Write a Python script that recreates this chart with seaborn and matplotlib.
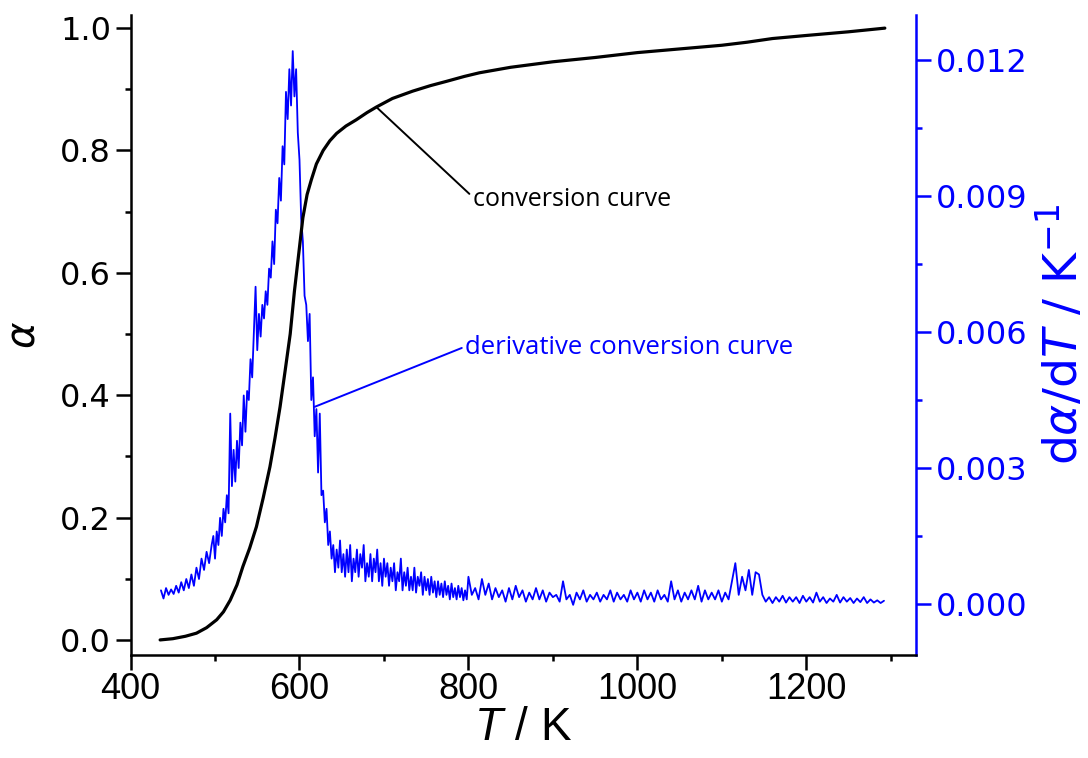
import numpy as np
import pandas as pd
import seaborn as sns
import matplotlib.pyplot as plt
from matplotlib import font_manager
from matplotlib.ticker import MultipleLocator

# conversion curve, alpha(T)
temp_alpha = [435, 450, 465, 478, 490, 502, 510, 518, 526, 533, 541, 549,
              557, 565, 571, 577, 583, 589, 594, 599, 604, 609, 614, 620,
              628, 636, 644, 655, 667, 680, 691, 710, 734, 755, 774, 795,
              813, 850, 900, 950, 1000, 1050, 1100, 1130, 1160, 1200, 1250, 1293]
alpha = [0.0, 0.002, 0.006, 0.011, 0.020, 0.033, 0.046, 0.065, 0.090, 0.120, 0.150, 0.185,
         0.232, 0.283, 0.330, 0.381, 0.440, 0.500, 0.570, 0.630, 0.690, 0.728, 0.752, 0.778,
         0.800, 0.816, 0.828, 0.840, 0.850, 0.862, 0.871, 0.885, 0.897, 0.906, 0.913, 0.921,
         0.927, 0.936, 0.945, 0.952, 0.960, 0.966, 0.972, 0.977, 0.983, 0.988, 0.994, 1.0]

# derivative conversion curve, dalpha/dT in 1e-4 K^-1
temp_deriv = [
    436, 439, 442, 445, 448, 451, 454, 457, 460, 463, 466, 469,
    472, 475, 478, 481, 484, 487, 490, 493, 496,
    498, 500, 502, 504, 506, 508, 510, 512, 514, 516,
    518, 520, 522, 524, 526, 528, 530, 532, 534, 536,
    538, 540, 542, 544, 546, 548, 550, 552, 554, 556,
    558, 560, 562, 564, 566, 568, 570, 572, 574, 576,
    578, 580, 582, 584, 586, 588, 590, 592, 594, 596,
    598, 600, 602, 604, 606, 608, 610, 612, 614, 616,
    618, 620, 622, 624, 626, 628, 630, 632, 634, 636,
    638, 640, 642, 644, 646, 648, 650,
    652, 654, 656, 658, 660, 662, 664, 666, 668, 670,
    672, 674, 676, 678, 680, 682, 684, 686, 688, 690,
    692, 694, 696, 698, 700, 702, 704, 706, 708, 710,
    712, 714, 716, 718, 720, 722, 724, 726, 728, 730,
    732, 734, 736, 738, 740, 742, 744, 746, 748, 750,
    752, 754, 756, 758, 760, 762, 764, 766, 768, 770,
    772, 774, 776, 778, 780, 782, 784, 786, 788, 790,
    792, 794, 796, 798, 800,
    804, 808,
    812, 816, 820, 824, 828, 832, 836, 840, 844, 848,
    852, 856, 860, 864, 868, 872, 876, 880, 884, 888,
    892, 896, 900, 904, 908, 912, 916, 920, 924, 928,
    932, 936, 940, 944, 948, 952, 956, 960, 964, 968,
    972, 976, 980, 984, 988, 992, 996, 1000, 1004, 1008,
    1012, 1016, 1020, 1024, 1028, 1032, 1036, 1040, 1044, 1048,
    1052, 1056, 1060, 1064, 1068, 1072, 1076, 1080, 1084, 1088,
    1092, 1096, 1100, 1104, 1108, 1112, 1116, 1120, 1124, 1128,
    1132, 1136, 1140, 1144, 1148, 1152, 1156, 1160, 1164, 1168,
    1172, 1176, 1180, 1184, 1188, 1192, 1196, 1200, 1204, 1208,
    1212, 1216, 1220, 1224, 1228, 1232, 1236, 1240, 1244, 1248,
    1252, 1256, 1260, 1264, 1268, 1272, 1276, 1280, 1284, 1288,
    1292]
deriv_e4 = [
    3.0, 1.2, 3.5, 2.0, 3.2, 2.2, 4.0, 2.5, 4.8, 3.0, 5.5, 3.5,
    6.5, 4.0, 8.0, 5.5, 10.0, 7.5, 11.5, 9.0, 13.0,
    15, 10, 16, 13, 19, 15, 21, 18, 24, 20,
    42, 26, 34, 27, 36, 30, 40, 35, 46, 38,
    47, 45, 54, 50, 60, 70, 56, 64, 59, 66,
    63, 69, 66, 74, 72, 80, 75, 87, 84, 94,
    89, 101, 97, 113, 107, 118, 110, 122, 112, 118,
    104, 98, 85, 80, 68, 66, 58, 64, 45, 50,
    37, 43, 29, 42, 24, 25, 18, 21, 13, 16,
    10, 13, 7, 12, 8, 14, 7,
    11, 6, 12, 7, 13, 5, 10, 7, 12, 6,
    11, 8, 13, 5, 9, 6, 11, 5, 10, 7,
    12, 5, 9, 4, 10, 6, 9, 4, 8, 5,
    9, 3, 7, 5, 10, 3, 7, 4, 8, 3,
    6, 3, 8, 2.5, 6, 4, 7, 2, 6, 3,
    5.5, 2, 6, 2.5, 5, 1.5, 5, 2, 4.5, 1.5,
    5, 2, 4, 1, 4.5, 1.5, 3.5, 1, 4, 1.5,
    3.5, 0.8, 3, 1, 6,
    2, 3.5,
    1, 5.5, 2, 4.5, 1, 3.5, 1.5, 3, 0.5, 3.5,
    1, 4, 1.5, 3, 0.5, 2.5, 1, 3.5, 1, 3,
    0.5, 2.5, 1.5, 2, 0.5, 5, 1, 2, -0.2, 2.5,
    1, 3, 0.5, 2, 1, 2.5, 0.5, 2, 1, 3,
    0.5, 2.5, 1, 2, 0.5, 3, 1, 2.5, 0.5, 3,
    1, 2.5, 0.5, 3, 1, 2, 0.5, 5, 1, 3,
    0.5, 2.5, 1, 3, 1, 4, 0.5, 3, 1, 2.5,
    1, 3, 0.5, 2.5, 1, 5, 9, 2, 6, 3,
    7.5, 2, 7, 6.5, 2, 0.5, 1.5, 0.2, 1.5, 0.5,
    1.8, 0.3, 1.5, 0.5, 1.5, 0.2, 1.8, 0.5, 1.5, 0.3,
    2.5, 0.5, 1.5, 0.2, 1.2, 0.5, 2, 0.3, 1.5, 0.5,
    1.3, 0.2, 1.2, 0.4, 1.5, 0.2, 1.0, 0.3, 0.8, 0.2,
    0.7]

xticks = [400, 600, 800, 1000, 1200]
xtick_labels = ["400", "600", "800", "1000", "1200"]
yticks_left = [0.0, 0.2, 0.4, 0.6, 0.8, 1.0]
yticks_right = [0.0, 0.003, 0.006, 0.009, 0.012]

BLUE = "#0000ff"


def pick(*names):
    for n in names:
        try:
            font_manager.findfont(n, fallback_to_default=False)
            return n
        except ValueError:
            pass
    return "DejaVu Sans"


sans = pick("Open Sans", "Noto Sans", "DejaVu Sans")
narrow = pick("Liberation Sans Narrow", "Liberation Sans", "DejaVu Sans")

sns.set_theme(style="ticks")
plt.rcParams["font.family"] = ["DejaVu Sans"]
plt.rcParams["mathtext.fontset"] = "custom"
plt.rcParams["mathtext.rm"] = "DejaVu Sans"
plt.rcParams["mathtext.it"] = "DejaVu Sans:italic"
plt.rcParams["mathtext.sf"] = narrow + ":italic"
plt.rcParams["axes.linewidth"] = 1.8
plt.rcParams["axes.labelcolor"] = "black"
plt.rcParams["text.color"] = "black"
plt.rcParams["axes.edgecolor"] = "black"
for a in ("xtick", "ytick"):
    plt.rcParams[a + ".major.size"] = 10.5
    plt.rcParams[a + ".minor.size"] = 4.5
    plt.rcParams[a + ".major.width"] = 1.8
    plt.rcParams[a + ".minor.width"] = 1.8
    plt.rcParams[a + ".color"] = "black"

df_a = pd.DataFrame({"T": temp_alpha, "alpha": alpha})
df_d = pd.DataFrame({"T": temp_deriv, "dadt": np.array(deriv_e4) * 1e-4})

fig, ax = plt.subplots(figsize=(10.88, 7.58), dpi=100)
fig.subplots_adjust(left=0.12, right=0.842, top=0.98, bottom=0.136)
ax2 = ax.twinx()

sns.lineplot(data=df_d, x="T", y="dadt", ax=ax2, color=BLUE, lw=1.3, errorbar=None)
sns.lineplot(data=df_a, x="T", y="alpha", ax=ax, color="black", lw=2.3, errorbar=None)

ax.set_zorder(ax2.get_zorder() + 1)
ax.patch.set_visible(False)

ax.set_xlim(400, 1330)
ax.set_ylim(-0.0245, 1.0212)
ax2.set_ylim(-0.001125, 0.012993)

ax.set_xticks(xticks)
ax.set_xticklabels(xtick_labels, fontfamily=narrow, fontsize=26)
ax.xaxis.set_minor_locator(MultipleLocator(100))
ax.set_yticks(yticks_left)
ax.set_yticklabels([f"{v:.1f}" for v in yticks_left], fontsize=23)
ax.yaxis.set_minor_locator(MultipleLocator(0.1))
ax2.set_yticks(yticks_right)
ax2.set_yticklabels([f"{v:.3f}" for v in yticks_right], fontsize=23, color=BLUE)
ax2.yaxis.set_minor_locator(MultipleLocator(0.0015))

ax.tick_params(axis="both", which="both", direction="out", pad=3.5)
ax.tick_params(axis="x", which="major", pad=2)
ax2.tick_params(axis="y", which="both", direction="out", colors=BLUE, pad=3.5)

for s in ("top", "right"):
    ax.spines[s].set_visible(False)
for s in ("top", "left", "bottom"):
    ax2.spines[s].set_visible(False)
ax2.spines["right"].set_color(BLUE)
ax2.spines["right"].set_linewidth(1.8)

ax.set_xlabel(r"$\mathsf{T}$ / K", fontfamily=narrow, fontsize=33, labelpad=-1, color="black")
ax.set_ylabel(r"$\alpha$", fontsize=29, labelpad=12, color="black")
ax2.set_ylabel(r"d$\alpha$/d$T$ / K$^{-1}$", fontsize=34, color=BLUE, labelpad=6)

ax.annotate("conversion curve", xy=(691, 0.871), xytext=(805, 0.72),
            fontsize=18, fontfamily=sans, va="center", ha="left", color="black",
            arrowprops=dict(arrowstyle="-", color="black", lw=1.4,
                            shrinkA=0, shrinkB=0, relpos=(0, 0.6)))
ax2.annotate("derivative conversion curve", xy=(618, 0.00435), xytext=(796, 0.00565),
             fontsize=18.5, fontfamily=sans, va="center", ha="left", color=BLUE,
             arrowprops=dict(arrowstyle="-", color=BLUE, lw=1.4,
                             shrinkA=0, shrinkB=0, relpos=(0, 0.55)))

fig.savefig("out.png", dpi=100)
